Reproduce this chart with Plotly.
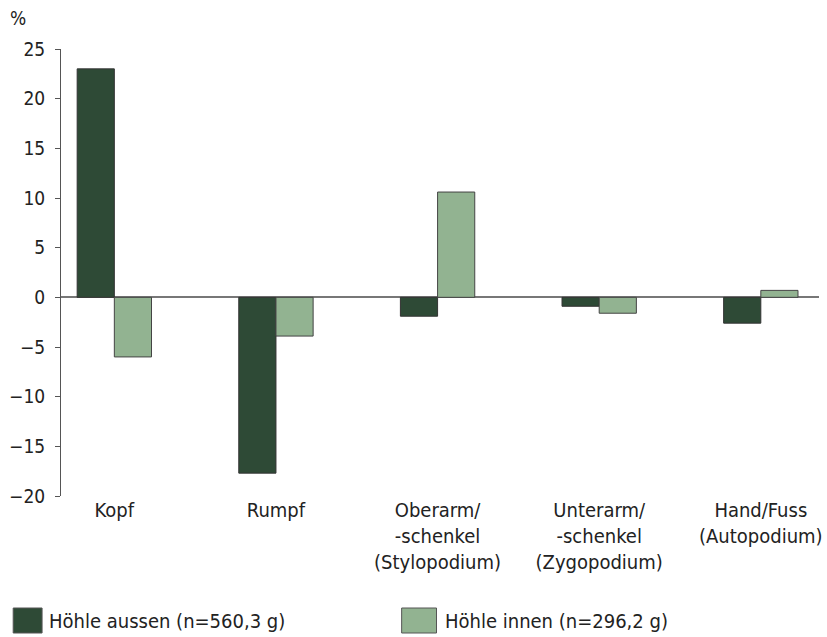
import plotly.graph_objects as go

categories = ["Kopf", "Rumpf", "Oberarm/<br>-schenkel<br>(Stylopodium)",
              "Unterarm/<br>-schenkel<br>(Zygopodium)", "Hand/Fuss<br>(Autopodium)"]
aussen = [23.0, -17.7, -1.9, -0.9, -2.6]
innen = [-6.0, -3.9, 10.6, -1.6, 0.7]
series_names = ["Höhle aussen (n=560,3 g)", "Höhle innen (n=296,2 g)"]
ytickvals = [-20, -15, -10, -5, 0, 5, 10, 15, 20, 25]

DARK = "#2e4a36"
LIGHT = "#92b391"
FONT = "Liberation Sans Narrow, Arial Narrow, DejaVu Sans Condensed, sans-serif"
TXT = "#222222"

W, H = 827, 637
L, R, T, B = 61, 5, 49, 141

x = list(range(len(categories)))
fig = go.Figure()
fig.add_bar(x=x, y=aussen, name=series_names[0], marker=dict(color=DARK, line=dict(color="#333333", width=1)))
fig.add_bar(x=x, y=innen, name=series_names[1], marker=dict(color=LIGHT, line=dict(color="#444444", width=1)))

def px2paper(px, py):
    return (px - L) / (W - L - R), (H - B - py) / (H - T - B)

shapes = []
annots = []
for (sx0, sx1, tx, col, name) in [(13, 42, 47, DARK, series_names[0]), (403, 438, 445, LIGHT, series_names[1])]:
    x0, y0 = px2paper(sx0, 633)
    x1, y1 = px2paper(sx1, 608)
    shapes.append(dict(type="rect", xref="paper", yref="paper", x0=x0, x1=x1, y0=y0, y1=y1,
                       fillcolor=col, line=dict(color="#555555", width=1)))
    ax, ay = px2paper(tx, 621)
    annots.append(dict(text=name, xref="paper", yref="paper", x=ax, y=ay, xanchor="left", yanchor="middle",
                       showarrow=False, font=dict(size=20, color=TXT, family=FONT)))
pxp, pyp = px2paper(18, 18)
annots.append(dict(text="%", xref="paper", yref="paper", x=pxp, y=pyp, xanchor="center", yanchor="middle",
                   showarrow=False, font=dict(size=19, color=TXT, family=FONT)))

fig.update_layout(
    width=W, height=H, margin=dict(l=L, r=R, t=T, b=B),
    plot_bgcolor="white", paper_bgcolor="white",
    barmode="group", bargap=0.54, bargroupgap=0,
    showlegend=False,
    font=dict(family=FONT, size=20, color=TXT),
    shapes=shapes, annotations=annots,
    xaxis=dict(range=[-0.33, 4.36], tickvals=x, ticktext=categories, showgrid=False,
               zeroline=False, showline=False, ticks="", tickfont=dict(size=20, color=TXT)),
    yaxis=dict(range=[-20, 25], tickvals=ytickvals, showgrid=False, zeroline=True,
               zerolinecolor="#777777", zerolinewidth=1.5, showline=True, linecolor="#555555",
               linewidth=1, ticks="outside", ticklen=5, tickcolor="#555555",
               tickfont=dict(size=19, color=TXT), ticklabelstandoff=6),
)
fig.write_html("out.html", config={"displayModeBar": False},
               post_script="document.body.style.margin='0px';document.body.style.overflow='hidden';")
